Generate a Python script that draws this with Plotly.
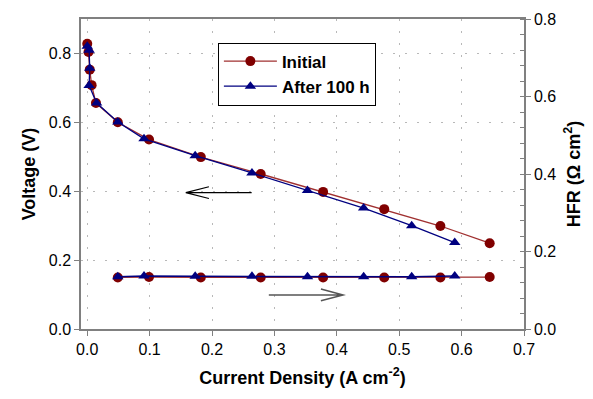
import plotly.graph_objects as go

# ---- data ----
current_initial = [0.000, 0.002, 0.004, 0.007, 0.014, 0.049, 0.099, 0.182, 0.278, 0.378, 0.476, 0.566, 0.645]
voltage_initial = [0.828, 0.804, 0.753, 0.708, 0.656, 0.600, 0.550, 0.499, 0.450, 0.398, 0.348, 0.299, 0.249]

current_after = [0.000, 0.003, 0.004, 0.003, 0.015, 0.049, 0.091, 0.173, 0.264, 0.353, 0.443, 0.520, 0.589]
voltage_after = [0.821, 0.809, 0.757, 0.707, 0.656, 0.601, 0.552, 0.503, 0.453, 0.402, 0.351, 0.300, 0.251]

hfr_current_initial = [0.049, 0.099, 0.182, 0.278, 0.378, 0.476, 0.566, 0.645]
hfr_initial = [0.133, 0.134, 0.133, 0.133, 0.133, 0.133, 0.133, 0.134]

hfr_current_after = [0.049, 0.091, 0.173, 0.264, 0.353, 0.443, 0.520, 0.589]
hfr_after = [0.135, 0.137, 0.136, 0.136, 0.135, 0.135, 0.135, 0.137]

series_names = ["Initial", "After 100 h"]
x_ticks = [0.0, 0.1, 0.2, 0.3, 0.4, 0.5, 0.6, 0.7]
y_ticks = [0.0, 0.2, 0.4, 0.6, 0.8]
y2_ticks = [0.0, 0.2, 0.4, 0.6, 0.8]

# arrows (annotation guides, in data units of x / left y)
arrow_left = dict(x0=0.2635, x1=0.158, y=0.396, head_x=0.195, head_dy=0.017)
arrow_right = dict(x0=0.291, x1=0.410, y=0.099, head_x=0.3745, head_dy=0.017)

RED = "#800000"
RED_LINE = "#a03030"
BLUE = "#000080"
FONT = "Liberation Sans, Arial, sans-serif"

fig = go.Figure()
fig.add_trace(go.Scatter(x=current_initial, y=voltage_initial, mode="lines+markers",
                         name=series_names[0], legendgroup="i",
                         line=dict(color=RED_LINE, width=1.3),
                         marker=dict(symbol="circle", size=10, color=RED)))
fig.add_trace(go.Scatter(x=current_after, y=voltage_after, mode="lines+markers",
                         name=series_names[1], legendgroup="a",
                         line=dict(color=BLUE, width=1.3),
                         marker=dict(symbol="triangle-up", size=10, color=BLUE)))
fig.add_trace(go.Scatter(x=hfr_current_initial, y=hfr_initial, mode="lines+markers",
                         yaxis="y2", showlegend=False, legendgroup="i",
                         line=dict(color=RED_LINE, width=1.3),
                         marker=dict(symbol="circle", size=10, color=RED)))
fig.add_trace(go.Scatter(x=hfr_current_after, y=hfr_after, mode="lines+markers",
                         yaxis="y2", showlegend=False, legendgroup="a",
                         line=dict(color=BLUE, width=1.5),
                         marker=dict(symbol="triangle-up", size=10, color=BLUE)))


def arrow_path(a):
    return (f"M{a['x0']},{a['y']} L{a['x1']},{a['y']} "
            f"M{a['head_x']},{a['y'] + a['head_dy']} L{a['x1']},{a['y']} "
            f"L{a['head_x']},{a['y'] - a['head_dy']}")


shapes = [
    dict(type="path", xref="x", yref="y", path=arrow_path(arrow_left),
         line=dict(color="black", width=1.2)),
    dict(type="path", xref="x", yref="y", path=arrow_path(arrow_right),
         line=dict(color="#555555", width=1.5)),
]

axis_common = dict(
    showline=True, linecolor="#808080", linewidth=1.5,
    ticks="outside", ticklen=5, tickcolor="#808080", tickwidth=1,
    tickfont=dict(family=FONT, size=16, color="black"),
    zeroline=False,
)

fig.update_layout(
    width=593, height=399,
    margin=dict(l=81, r=69, t=19, b=70, autoexpand=False),
    paper_bgcolor="white", plot_bgcolor="white",
    font=dict(family=FONT, color="black"),
    showlegend=True,
    legend=dict(x=0.309, y=0.924, xanchor="left", yanchor="top",
                bordercolor="black", borderwidth=1, bgcolor="white",
                font=dict(family=FONT, size=17, color="black", weight="bold"),
                itemwidth=53, tracegroupgap=0),
    xaxis=dict(range=[-0.01, 0.7], tickvals=x_ticks, tickformat=".1f",
               mirror=True, showgrid=True, gridcolor="#b8b8b8", griddash="2px,10px", gridwidth=1,
               title=dict(text="Current Density (A cm<sup>-2</sup>)", standoff=14,
                          font=dict(family=FONT, size=18, weight="bold")),
               **axis_common),
    yaxis=dict(range=[0, 0.9], tickvals=y_ticks, tickformat=".1f",
               showgrid=True, gridcolor="#b8b8b8", griddash="2px,10px", gridwidth=1,
               title=dict(text="Voltage (V)", standoff=8,
                          font=dict(family=FONT, size=18, weight="bold")),
               **axis_common),
    yaxis2=dict(range=[0, 0.8], tickvals=y2_ticks, tickformat=".1f",
                overlaying="y", side="right", showgrid=False,
                minor=dict(dtick=0.04, ticks="inside", ticklen=4, tickcolor="#808080"),
                title=dict(text="HFR (Ω cm<sup>2</sup>)", standoff=12,
                           font=dict(family=FONT, size=18, weight="bold")),
                **axis_common),
    shapes=shapes,
)

fig.write_html("out.html")
